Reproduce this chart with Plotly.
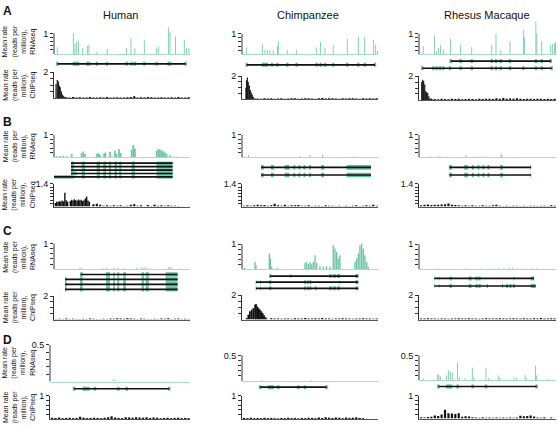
import plotly.graph_objects as go

W, H = 558, 428
GREEN = '#5cc29a'
GREEN_L = '#6cc7a1'
BASE_G = '#a8dcc5'
FONT = 'Arial, Liberation Sans, sans-serif'

# ---------------- data (relative genomic position 0-100) ----------------
# RNA-seq peaks
A_HUMAN_RNA_X = [2.4, 14.2, 15.4, 16.7, 17.9, 21.1, 24.5, 25.7, 31.6, 39.2, 53.4, 56.6, 59.5, 66.4, 75.5, 77, 84.3, 85.3, 89.4, 95.8, 97.5, 99.2]
A_HUMAN_RNA_Y = [0.33, 1.0, 0.5, 0.6, 0.65, 0.3, 0.4, 0.45, 0.12, 0.25, 0.28, 0.75, 0.28, 0.68, 0.28, 0.35, 1.3, 1.08, 0.85, 0.68, 0.28, 0.3]
A_CHIMP_RNA_X = [3.4, 15.2, 16.9, 18.6, 20.6, 23, 26, 26.7, 33.3, 40.2, 54.9, 57.8, 61, 67.1, 77.4, 85.5, 90.2, 96.8, 98.3, 99.6]
A_CHIMP_RNA_Y = [0.35, 0.48, 0.24, 0.24, 0.2, 0.2, 0.4, 0.63, 0.2, 0.24, 0.35, 0.6, 0.32, 0.44, 0.76, 0.87, 0.84, 0.71, 0.48, 0.16]
A_RHESUS_RNA_X = [3.1, 11.2, 12.9, 14.1, 15.8, 17.7, 23.1, 30.4, 38.5, 53.1, 56.2, 59.7, 66.4, 76.2, 76.9, 85.3, 86, 89.6, 96.2, 97.6, 98.8, 99.7]
A_RHESUS_RNA_Y = [0.4, 0.92, 0.16, 0.32, 0.44, 0.24, 0.76, 0.48, 0.35, 0.44, 0.98, 0.19, 0.63, 1.19, 0.8, 1.59, 1.03, 0.63, 0.48, 0.5, 0.52, 0.6]
B_HUMAN_RNA_X = [2, 4.4, 6.8, 9.3, 13, 20.3, 21.5, 22.8, 31.4, 32.6, 33.8, 36.8, 37.7, 41.2, 44.8, 46, 47.8, 49, 57.1, 58.3, 59.5, 75.5, 76.7, 77.9, 79.2, 80.3, 81.6, 82.8, 85.3, 87.7, 90.2]
B_HUMAN_RNA_Y = [0.06, 0.07, 0.08, 0.06, 0.15, 0.2, 0.27, 0.15, 0.15, 0.2, 0.12, 0.18, 0.22, 0.25, 0.3, 0.15, 0.38, 0.2, 0.35, 0.56, 0.4, 0.3, 0.38, 0.35, 0.3, 0.28, 0.22, 0.15, 0.1, 0.04, 0.03]
B_CHIMP_RNA_X = [4.7, 10, 42.6, 50, 59.3, 79.4, 81.8, 84.3]
B_CHIMP_RNA_Y = [0.11, 0.04, 0.07, 0.11, 0.15, 0.03, 0.04, 0.03]
B_RHESUS_RNA_X = [8.8, 14.1, 15.3, 20.7, 34.3, 42.8, 46.5, 48.9, 59.9, 60.6]
B_RHESUS_RNA_Y = [0.04, 0.05, 0.04, 0.03, 0.1, 0.06, 0.04, 0.05, 0.18, 0.1]
C_HUMAN_RNA_X = [3.9, 8.1, 19.1, 20.3, 36.2, 38.7, 43.6, 44.8, 47.3, 51.4, 60.8, 64.4, 66.2, 68.1, 70.6, 84, 85.3, 86.5, 92.6]
C_HUMAN_RNA_Y = [0.02, 0.02, 0.08, 0.04, 0.04, 0.05, 0.05, 0.06, 0.05, 0.04, 0.05, 0.06, 0.09, 0.06, 0.04, 0.08, 0.1, 0.05, 0.02]
C_CHIMP_RNA_X = [2, 9.6, 10.3, 20.1, 20.8, 21.8, 26, 46.3, 47.5, 48.8, 50, 51.2, 52.4, 53.7, 54.9, 57.3, 59.8, 62.2, 64.7, 67.1, 68.4, 69.6, 70.8, 72, 83.1, 84.3, 85.5, 86.7, 88, 89.2, 90.4, 91.7, 92.8]
C_CHIMP_RNA_Y = [0.05, 0.29, 0.15, 0.63, 0.43, 0.1, 0.05, 0.25, 0.3, 0.22, 0.28, 0.2, 0.3, 0.56, 0.25, 0.12, 0.1, 0.12, 0.1, 0.96, 0.83, 0.69, 0.43, 0.56, 0.3, 0.43, 0.63, 0.96, 1.03, 0.83, 0.56, 0.29, 0.1]
C_RHESUS_RNA_X = [1, 8, 14, 20, 26, 34, 40, 45, 52, 58, 62, 66, 68.5, 72, 77, 82, 86, 92, 98]
C_RHESUS_RNA_Y = [0.02, 0.02, 0.03, 0.02, 0.02, 0.03, 0.02, 0.03, 0.03, 0.04, 0.03, 0.05, 0.06, 0.03, 0.03, 0.04, 0.04, 0.02, 0.02]
D_HUMAN_RNA_X = [44.8, 45.9, 48.1]
D_HUMAN_RNA_Y = [0.02, 0.03, 0.015]
D_CHIMP_RNA_X = [14.5, 51.3]
D_CHIMP_RNA_Y = [0.02, 0.02]
D_RHESUS_RNA_X = [3.2, 13.6, 14.6, 15.8, 20.2, 21.4, 23.1, 24.6, 28.2, 29.4, 33.6, 38.9, 40.2, 48.9, 50.6, 57.9, 59.1, 69.3, 71.3, 77.4, 78.6, 85.1, 85.9, 94.4]
D_RHESUS_RNA_Y = [0.03, 0.13, 0.1, 0.07, 0.09, 0.2, 0.17, 0.15, 0.35, 0.05, 0.04, 0.25, 0.05, 0.25, 0.04, 0.09, 0.05, 0.07, 0.05, 0.11, 0.04, 0.29, 0.09, 0.02]

# ChIP-seq: binned background + peak regions
CHIP_BINS = [1.5, 4, 6.5, 9, 11.5, 14, 16.5, 19, 21.5, 24, 26.5, 29, 31.5, 34, 36.5, 39, 41.5, 44, 46.5, 49,
             51.5, 54, 56.5, 59, 61.5, 64, 66.5, 69, 71.5, 74, 76.5, 79, 81.5, 84, 86.5, 89, 91.5, 94, 96.5, 99]
A_HUMAN_CHIP = [0, 0, 0, 0.09, 0.07, 0.1, 0.06, 0.09, 0.07, 0.06, 0.1, 0.07, 0.06, 0.09, 0.07, 0.1, 0.06, 0.07, 0.09, 0.07, 0.06, 0.09, 0.1, 0.16, 0.06, 0.09, 0.07, 0.1, 0.09, 0.06, 0.07, 0.09, 0.07, 0.06, 0.09, 0.07, 0.1, 0.06, 0.07, 0.09]
A_CHIMP_CHIP = [0, 0, 0, 0, 0.07, 0.06, 0.09, 0.07, 0.1, 0.06, 0.07, 0.09, 0.06, 0.07, 0.1, 0.09, 0.06, 0.07, 0.09, 0.1, 0.07, 0.06, 0.09, 0.13, 0.07, 0.09, 0.1, 0.07, 0.06, 0.09, 0.07, 0.1, 0.09, 0.07, 0.06, 0.09, 0.07, 0.1, 0.07, 0.09]
A_RHESUS_CHIP = [0, 0, 0, 0.09, 0.07, 0.06, 0.09, 0.07, 0.06, 0.09, 0.07, 0.1, 0.06, 0.07, 0.09, 0.07, 0.06, 0.09, 0.07, 0.1, 0.09, 0.07, 0.13, 0.1, 0.16, 0.09, 0.12, 0.1, 0.13, 0.09, 0.07, 0.1, 0.09, 0.07, 0.1, 0.09, 0.07, 0.09, 0.07, 0.1]
B_HUMAN_CHIP = [0, 0, 0, 0, 0, 0, 0, 0, 0, 0, 0, 0.14, 0.18, 0.12, 0.05, 0.08, 0.06, 0.09, 0.05, 0.08, 0.04, 0.06, 0.11, 0.14, 0.05, 0.09, 0, 0.1, 0.04, 0.11, 0.05, 0.09, 0.06, 0.08, 0.05, 0.06, 0.04, 0, 0, 0]
B_CHIMP_CHIP = [0.05, 0.08, 0.06, 0.09, 0.11, 0.08, 0.1, 0.06, 0.09, 0.18, 0.08, 0.06, 0.11, 0.05, 0.09, 0.08, 0.1, 0.05, 0.06, 0.08, 0.04, 0.06, 0.05, 0.04, 0.08, 0.05, 0.06, 0.04, 0.05, 0.03, 0.06, 0.04, 0.05, 0.08, 0.04, 0.06, 0.09, 0.05, 0.11, 0.06]
B_RHESUS_CHIP = [0.09, 0.11, 0.13, 0.1, 0.12, 0.11, 0.13, 0.15, 0.19, 0.11, 0.1, 0.08, 0.06, 0.09, 0.05, 0.08, 0.06, 0.05, 0.08, 0.06, 0.05, 0.09, 0.11, 0.06, 0.04, 0.05, 0.04, 0.05, 0.06, 0.04, 0.05, 0.04, 0.06, 0.05, 0.04, 0.05, 0.06, 0.04, 0.08, 0.05]
C_HUMAN_CHIP = [0.06, 0.08, 0.05, 0.09, 0.06, 0.08, 0.06, 0.05, 0.08, 0.06, 0.09, 0.08, 0.06, 0.05, 0.08, 0.06, 0.09, 0.08, 0.11, 0.09, 0.08, 0.11, 0.09, 0.08, 0.06, 0.09, 0.08, 0.06, 0.05, 0.08, 0.06, 0.09, 0.08, 0.11, 0.06, 0.08, 0.09, 0.06, 0.08, 0.06]
C_CHIMP_CHIP = [0, 0, 0, 0, 0, 0, 0, 0, 0.11, 0.08, 0.09, 0.06, 0.08, 0.09, 0.06, 0.11, 0.08, 0.09, 0.12, 0.09, 0.08, 0.11, 0.09, 0.12, 0.08, 0.09, 0.06, 0.08, 0.09, 0.11, 0.08, 0.09, 0.06, 0.08, 0.09, 0.11, 0.08, 0.09, 0.06, 0.08]
C_RHESUS_CHIP = [0.08, 0.09, 0.11, 0.08, 0.09, 0.06, 0.09, 0.08, 0.06, 0.09, 0.08, 0.11, 0.09, 0.08, 0.11, 0.09, 0.08, 0.06, 0.09, 0.11, 0.08, 0.09, 0.08, 0.11, 0.09, 0.08, 0.09, 0.11, 0.08, 0.09, 0.11, 0.09, 0.08, 0.11, 0.09, 0.12, 0.09, 0.08, 0.11, 0.09]
D_HUMAN_CHIP = [0.06, 0.05, 0.07, 0.04, 0.05, 0.06, 0.04, 0.05, 0.1, 0.06, 0.04, 0.05, 0.06, 0.05, 0.04, 0.06, 0.08, 0.12, 0.07, 0.05, 0.04, 0.08, 0.07, 0.06, 0.08, 0.07, 0.06, 0.08, 0.05, 0.07, 0.06, 0.04, 0.05, 0.06, 0.04, 0.05, 0.06, 0.04, 0.05, 0.04]
D_CHIMP_CHIP = [0.05, 0.04, 0.06, 0.04, 0.05, 0.04, 0.06, 0.04, 0.05, 0.04, 0.03, 0.05, 0.04, 0.06, 0.04, 0.05, 0.03, 0.05, 0.04, 0.06, 0.05, 0.04, 0.07, 0.05, 0.08, 0.06, 0.05, 0.07, 0.06, 0.04, 0.07, 0.05, 0.06, 0.08, 0.05, 0.04, 0, 0, 0, 0]
D_RHESUS_CHIP = [0.06, 0.05, 0.07, 0.08, 0.14, 0.12, 0.18, 0.39, 0.24, 0.22, 0.2, 0.24, 0.08, 0.1, 0.09, 0.06, 0.05, 0.04, 0.06, 0.04, 0.05, 0.04, 0.05, 0.04, 0.05, 0.04, 0.05, 0.04, 0.05, 0.13, 0.1, 0.12, 0.14, 0.09, 0.05, 0.04, 0.06, 0, 0.05, 0]

A_HUMAN_PEAK_X = [1.5, 2.4, 3.2, 3.9, 4.6, 5.4, 6.1, 6.8, 7.5, 8.1]
A_HUMAN_PEAK_Y = [1.1, 1.4, 1.3, 0.97, 0.85, 0.55, 0.3, 0.2, 0.12, 0.08]
A_CHIMP_PEAK_X = [2.9, 3.4, 3.9, 4.6, 5.4, 6.1, 6.8, 7.6, 8.3, 9.6]
A_CHIMP_PEAK_Y = [1.0, 1.64, 1.88, 1.5, 1.2, 0.8, 0.6, 0.4, 0.2, 0.1]
A_RHESUS_PEAK_X = [2, 2.7, 3.4, 4.2, 4.9, 5.6, 6.4, 7.1, 8]
A_RHESUS_PEAK_Y = [1.5, 1.69, 1.6, 1.3, 0.73, 0.65, 0.57, 0.3, 0.13]
B_HUMAN_PEAK_X = [1, 2, 3, 4, 5, 6, 7, 8, 9, 10, 12, 13, 14, 15, 16, 17, 18, 19, 20, 21, 22, 23, 24, 25, 26]
B_HUMAN_PEAK_Y = [0.22, 0.3, 0.28, 0.35, 0.3, 0.38, 0.32, 0.85, 0.4, 0.3, 0.35, 0.42, 0.38, 0.45, 0.4, 0.36, 0.44, 0.38, 0.42, 0.35, 0.4, 0.5, 0.62, 0.38, 0.3]
C_CHIMP_PEAK_X = [3.4, 4.6, 5.8, 7.1, 8.3, 9.6, 10.3, 11.3, 12.3, 13.2, 14.2, 15.2, 16.2, 17.2, 18.1]
C_CHIMP_PEAK_Y = [0.13, 0.4, 0.67, 0.8, 0.93, 1.2, 1.28, 1.07, 0.93, 0.8, 0.67, 0.53, 0.35, 0.19, 0.08]
EMPTY = []

# Gene models: transcript spans and exons [start, end]
A_HUMAN_SPAN = [[2.4, 96.8]]
A_HUMAN_EXC = [[2.4, 14.7, 16.2, 17.9, 24.5, 26, 31.6, 39, 53.4, 57, 59.5, 66.4, 75.5, 84.3, 85.3, 96.8]]
A_CHIMP_SPAN = [[3.4, 97.8]]
A_CHIMP_EXC = [[3.4, 15.4, 16.9, 18.3, 22.1, 26, 33.3, 40.2, 54.9, 57.8, 61, 67.1, 77.4, 85.5, 90.2, 97.8]]
A_RHESUS_SPAN = [[23.1, 96.2], [2.4, 96.9]]
A_RHESUS_EXC = [[23.1, 30.4, 38.5, 53.1, 56.2, 59.7, 66.4, 85.3, 89.6, 96.2],
                [2.4, 10.5, 12.9, 15.3, 17.7, 22.6, 30.4, 38.5, 53.1, 56.2, 59.7, 66.4, 76.2, 85.3, 89.6, 96.9]]
D_HUMAN_SPAN = [[17.1, 85.2]]
D_HUMAN_EXC = [[17.1, 24.3, 25.7, 27.4, 32.1, 48.8, 54.8, 85.2]]
D_CHIMP_SPAN = [[13.2, 62.2]]
D_CHIMP_EXC = [[13.2, 19.8, 21, 22.5, 26.7, 41.4, 46.3, 62.2]]
D_RHESUS_SPAN = [[14.1, 85.9]]
D_RHESUS_EXC = [[14.1, 20.6, 22.1, 23.4, 28.2, 39.2, 48.9, 85.9]]

B_HUMAN_SPAN = [[12.5, 87.2], [12.5, 87.2], [12.5, 87.2], [12.5, 87.2], [0, 87.2]]
B_HUMAN_CORE = [[20.3, 22.8], [31.4, 33.8], [36.3, 38.2], [40.4, 42], [44.6, 46.3], [48, 49.5], [57.1, 59.5], [75.5, 87.2]]
B_HUMAN_FIRST = [[[12.5, 14.7]], [[12.5, 14.7]], [[12.5, 14.7]], [[12.5, 14.7], [14.7, 17]], [[0, 14.7]]]
B_CHIMP_SPAN = [[14, 94.8], [14, 94.8]]
B_CHIMP_CORE = [[14, 16], [21.3, 23.4], [31.4, 34.8], [37.8, 39.2], [41.5, 42.9], [45.2, 46.6], [49.3, 50.7], [58.2, 60.4], [76.9, 94.8]]
B_RHESUS_SPAN = [[22.1, 81.8], [22.1, 81.8]]
B_RHESUS_CORE = [[22, 24], [33, 35.6], [38.6, 40], [42.8, 44], [46.4, 47.7], [50, 51.4], [59.2, 61.2], [81.3, 81.9]]
C_HUMAN_SPAN = [[19.7, 90.9], [8.1, 90.9], [8.1, 90.9], [8.1, 90.9]]
C_HUMAN_CORE = [[19.1, 21.1], [38.2, 41.2], [43.6, 44.8], [46.5, 48], [50.9, 52.9], [64.4, 66.2], [67.3, 69.8], [82.1, 90.9]]
C_HUMAN_FIRST = [[], [[8.1, 9.3]], [[8.1, 9.3]], [[8.1, 9.3]]]
C_CHIMP_SPAN = [[20.6, 85.5], [10.3, 85.5], [10.3, 85.5]]
C_CHIMP_EXONS = [[[20, 21.4], [35.6, 36.3], [64.2, 66], [67, 69], [70, 72], [83.5, 85.5]],
                 [[10, 10.7], [13.4, 14], [20, 21.6], [45.6, 47], [47.8, 49], [49.6, 51], [71.6, 72.2], [83.5, 85.5]],
                 [[10, 10.7], [13.4, 14], [20, 21.6], [45.6, 47], [47.8, 49], [49.6, 51], [53.5, 54.8], [64.2, 66], [67, 69], [70, 72], [83.5, 85.5]]]
C_RHESUS_SPAN = [[11.2, 84], [11.2, 85.2]]
C_RHESUS_EXONS = [[[11, 11.5], [14.4, 14.9], [22.4, 24], [36.3, 38.3], [41.3, 42.8], [43.5, 45], [69, 69.6], [81.6, 84]],
                  [[11, 11.5], [14.4, 14.9], [22.4, 24], [36.3, 38.3], [41.3, 42.8], [43.5, 45], [49.4, 50.4], [60.6, 61.3], [63.5, 65], [66, 67.5], [68.5, 70], [81.6, 85.2]]]

COLUMNS = ['Human', 'Chimpanzee', 'Rhesus Macaque']
PANELS = ['A', 'B', 'C', 'D']

# ---------------- drawing helpers ----------------
fig = go.Figure()
axes_layout = {}
shapes = []
annotations = []
counter = [0]


def new_axes(xd, yd):
    counter[0] += 1
    n = counter[0]
    s = '' if n == 1 else str(n)
    xa = dict(domain=[xd[0] / W, xd[1] / W], anchor='y' + s, range=[0, 100], showgrid=False,
              zeroline=False, showticklabels=False, ticks='', fixedrange=True)
    ya = dict(domain=[1 - yd[1] / H, 1 - yd[0] / H], anchor='x' + s, showgrid=False,
              zeroline=False, fixedrange=True)
    axes_layout['xaxis' + s] = xa
    axes_layout['yaxis' + s] = ya
    return 'x' + s, 'y' + s, xa, ya


def ticklabels(ticks, label):
    return [''] * (len(ticks) - 1) + [label]


def rna_track(xd, label_px, base_px, top_val, label, ticks, head, xs, ys, bw):
    top_px = label_px - head
    rng = top_val * (base_px - top_px) / (base_px - label_px)
    xr, yr, xa, ya = new_axes(xd, (top_px, base_px))
    xa.update(showline=True, linecolor=BASE_G, linewidth=1)
    ya.update(range=[0, rng], showline=False, ticks='outside', ticklen=3, tickwidth=1,
              tickcolor='#333', tickvals=ticks, ticktext=ticklabels(ticks, label),
              tickfont=dict(size=9, color='#111', family=FONT))
    fig.add_trace(go.Bar(x=xs, y=ys, width=bw, marker=dict(color=GREEN_L, line=dict(width=0)),
                         xaxis=xr, yaxis=yr))
    shapes.append(dict(type='line', xref=xr + ' domain', yref=yr, x0=0, x1=0, y0=0, y1=top_val,
                       line=dict(color='#333', width=1)))


def chip_track(xd, label_px, base_px, top_val, label, ticks, hs, px_, py_, pw):
    xr, yr, xa, ya = new_axes(xd, (label_px, base_px))
    xa.update(showline=True, linecolor='#555555', linewidth=1)
    ya.update(range=[0, top_val], showline=True, linecolor='#333', linewidth=1, ticks='outside',
              ticklen=3, tickwidth=1, tickcolor='#333', tickvals=ticks,
              ticktext=ticklabels(ticks, label), tickfont=dict(size=9, color='#111', family=FONT))
    fig.add_trace(go.Bar(x=CHIP_BINS, y=hs, width=1.6, marker=dict(color='#111', line=dict(width=0)),
                         xaxis=xr, yaxis=yr))
    if px_:
        fig.add_trace(go.Bar(x=px_, y=py_, width=pw, marker=dict(color='#111', line=dict(width=0)),
                             xaxis=xr, yaxis=yr))


def gene_track(xd, ys_px, spans, exons, ex_px):
    n = len(ys_px)
    s = (ys_px[-1] - ys_px[0]) / (n - 1) if n > 1 else 6.0
    xr, yr, xa, ya = new_axes(xd, (ys_px[0] - s / 2, ys_px[-1] + s / 2))
    xa.update(visible=False)
    ya.update(range=[n - 0.5, -0.5], visible=False)
    lx, ly = [], []
    for i, (a, b) in enumerate(spans):
        lx += [a, b, None]
        ly += [i, i, None]
    fig.add_trace(go.Scatter(x=lx, y=ly, mode='lines', line=dict(color='#111', width=1.7),
                             xaxis=xr, yaxis=yr))
    bx, by, bb = [], [], []
    for i, ex in enumerate(exons):
        for a, b in ex:
            bx.append(b - a)
            bb.append(a)
            by.append(i)
    fig.add_trace(go.Bar(orientation='h', x=bx, y=by, base=bb, width=ex_px / s,
                         marker=dict(color=GREEN, line=dict(width=0)), xaxis=xr, yaxis=yr))


def from_centers(centers, w):
    return [[[c - w / 2, c + w / 2] for c in tx] for tx in centers]


# ---------------- layout geometry ----------------
XH, XC, XR = (54, 190), (242, 378), (419, 556)
T1 = [0.2, 0.4, 0.6, 0.8, 1]
T2 = [0.5, 1, 1.5, 2]
T14 = [0.2, 0.4, 0.6, 0.8, 1, 1.2, 1.4]
T05 = [0.1, 0.2, 0.3, 0.4, 0.5]
SP = 0.6  # spike width

# Row A
rna_track(XH, 28.7, 49.7, 1, '1', T1, 14, A_HUMAN_RNA_X, A_HUMAN_RNA_Y, SP)
gene_track(XH, [59.5], A_HUMAN_SPAN, from_centers(A_HUMAN_EXC, 1.7), 4)
chip_track(XH, 68, 94.5, 2, '2', T2, A_HUMAN_CHIP, A_HUMAN_PEAK_X, A_HUMAN_PEAK_Y, 0.85)
rna_track(XC, 29, 50, 1, '1', T1, 14, A_CHIMP_RNA_X, A_CHIMP_RNA_Y, SP)
gene_track(XC, [60.5], A_CHIMP_SPAN, from_centers(A_CHIMP_EXC, 1.7), 4)
chip_track(XC, 72, 95.5, 2, '2', T2, A_CHIMP_CHIP, A_CHIMP_PEAK_X, A_CHIMP_PEAK_Y, 0.85)
rna_track(XR, 29, 50, 1, '1', T1, 14, A_RHESUS_RNA_X, A_RHESUS_RNA_Y, SP)
gene_track(XR, [56.7, 64], A_RHESUS_SPAN, from_centers(A_RHESUS_EXC, 1.7), 4)
chip_track(XR, 72, 96, 2, '2', T2, A_RHESUS_CHIP, A_RHESUS_PEAK_X, A_RHESUS_PEAK_Y, 0.85)

# Row B
rna_track(XH, 131.5, 154.3, 1, '1', T1, 2, B_HUMAN_RNA_X, B_HUMAN_RNA_Y, 1.25)
gene_track(XH, [160, 163.5, 167, 170.5, 174], B_HUMAN_SPAN,
           [f + B_HUMAN_CORE for f in B_HUMAN_FIRST], 3.6)
chip_track(XH, 181, 204, 1.4, '1.4', T14, B_HUMAN_CHIP, B_HUMAN_PEAK_X, B_HUMAN_PEAK_Y, 1.05)
rna_track(XC, 131.5, 154.3, 1, '1', T1, 2, B_CHIMP_RNA_X, B_CHIMP_RNA_Y, SP)
gene_track(XC, [164.3, 172], B_CHIMP_SPAN, [B_CHIMP_CORE, B_CHIMP_CORE], 4.6)
chip_track(XC, 181, 204, 1.4, '1.4', T14, B_CHIMP_CHIP, EMPTY, EMPTY, 1)
rna_track(XR, 131.5, 154.3, 1, '1', T1, 2, B_RHESUS_RNA_X, B_RHESUS_RNA_Y, SP)
gene_track(XR, [164.3, 172], B_RHESUS_SPAN, [B_RHESUS_CORE, B_RHESUS_CORE], 4.6)
chip_track(XR, 181, 204, 1.4, '1.4', T14, B_RHESUS_CHIP, EMPTY, EMPTY, 1)

# Row C
rna_track(XH, 241.5, 267.3, 1, '1', T1, 2, C_HUMAN_RNA_X, C_HUMAN_RNA_Y, SP)
gene_track(XH, [272.7, 277.7, 282.7, 287.7], C_HUMAN_SPAN,
           [f + C_HUMAN_CORE for f in C_HUMAN_FIRST], 4.6)
chip_track(XH, 294.5, 318.3, 2, '2', T2, C_HUMAN_CHIP, EMPTY, EMPTY, 1)
rna_track(XC, 242, 267.3, 1, '1', T1, 4, C_CHIMP_RNA_X, C_CHIMP_RNA_Y, 1.0)
gene_track(XC, [274.3, 280.5, 286.7], C_CHIMP_SPAN, C_CHIMP_EXONS, 4)
chip_track(XC, 293.5, 318.3, 2, '2', T2, C_CHIMP_CHIP, C_CHIMP_PEAK_X, C_CHIMP_PEAK_Y, 1.25)
rna_track(XR, 242, 267.3, 1, '1', T1, 2, C_RHESUS_RNA_X, C_RHESUS_RNA_Y, SP)
gene_track(XR, [276.7, 284.3], C_RHESUS_SPAN, C_RHESUS_EXONS, 4)
chip_track(XR, 293.5, 318.3, 2, '2', T2, C_RHESUS_CHIP, EMPTY, EMPTY, 1)

# Row D
XHD = (50, 190)
rna_track(XHD, 344, 381, 0.5, '0.5', T05, 2, D_HUMAN_RNA_X, D_HUMAN_RNA_Y, SP)
gene_track(XHD, [388.3], D_HUMAN_SPAN, from_centers(D_HUMAN_EXC, 1.8), 4)
chip_track(XHD, 395.5, 419, 1, '1', T1, D_HUMAN_CHIP, EMPTY, EMPTY, 1)
rna_track(XC, 354.5, 380.5, 0.5, '0.5', T05, 2, D_CHIMP_RNA_X, D_CHIMP_RNA_Y, SP)
gene_track(XC, [386.7], D_CHIMP_SPAN, from_centers(D_CHIMP_EXC, 1.8), 4)
chip_track(XC, 395.5, 419, 1, '1', T1, D_CHIMP_CHIP, EMPTY, EMPTY, 1)
rna_track(XR, 354.5, 379.5, 0.5, '0.5', T05, 2, D_RHESUS_RNA_X, D_RHESUS_RNA_Y, SP)
gene_track(XR, [386], D_RHESUS_SPAN, from_centers(D_RHESUS_EXC, 1.8), 4)
chip_track(XR, 395.5, 418.5, 1, '1', T1, D_RHESUS_CHIP, EMPTY, EMPTY, 1)

# ---------------- text ----------------
for name, cx in zip(COLUMNS, [120, 308, 487]):
    annotations.append(dict(text=name, x=cx / W, y=1 - 10 / H, xref='paper', yref='paper',
                            showarrow=False, xanchor='center', yanchor='middle',
                            font=dict(size=11, color='#111', family=FONT)))
for letter, cy in zip(PANELS, [6, 118, 229, 339]):
    annotations.append(dict(text='<b>' + letter + '</b>', x=7 / W, y=1 - cy / H, xref='paper',
                            yref='paper', showarrow=False, xanchor='center', yanchor='middle',
                            font=dict(size=12, color='#111', family=FONT)))
RNA_LABEL = 'Mean rate<br>(reads per<br>million),<br>RNAseq'
CHIP_LABEL = 'Mean rate<br>(reads per<br>million),<br>ChIPseq'
for cy, txt in zip([37, 81, 143, 192, 255, 306, 362, 407],
                   [RNA_LABEL, CHIP_LABEL] * 4):
    annotations.append(dict(text=txt, x=19 / W, y=1 - cy / H, xref='paper', yref='paper',
                            showarrow=False, xanchor='center', yanchor='middle', textangle=-90,
                            align='center', font=dict(size=7, color='#111', family=FONT)))

fig.update_layout(width=W, height=H, autosize=False, margin=dict(l=0, r=0, t=0, b=0),
                  paper_bgcolor='white', plot_bgcolor='white', showlegend=False,
                  barmode='overlay', shapes=shapes, annotations=annotations, **axes_layout)
fig.write_html('out.html', config={'displayModeBar': False, 'staticPlot': True},
               post_script="document.body.style.margin='0';document.body.style.padding='0';"
                           "document.body.style.overflow='hidden';")
